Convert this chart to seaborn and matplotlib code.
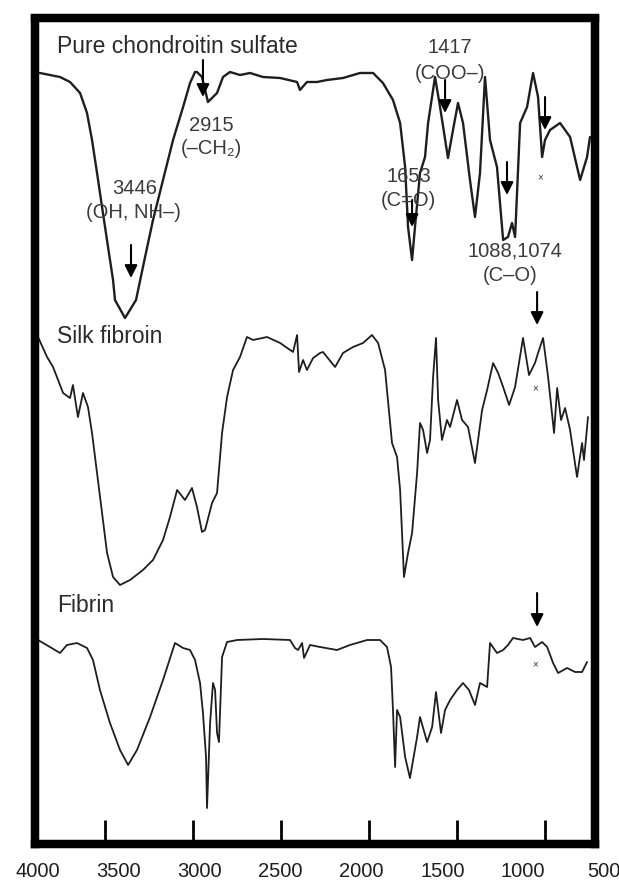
import numpy as np
import pandas as pd
import matplotlib
matplotlib.use('Agg')
import matplotlib.pyplot as plt
import seaborn as sns

# FTIR spectra: wavenumber (cm-1) and transmittance (a.u., offset stacks)
cs_wn = [3988, 3864, 3802, 3740, 3697, 3666, 3635, 3604, 3567, 3536, 3524, 3462, 3394,
         3338, 3289, 3227, 3165, 3103, 3060, 3029, 3017, 2986, 2949, 2893, 2856, 2813,
         2751, 2689, 2609, 2503, 2398, 2380, 2337, 2275, 2213, 2114, 2009, 1928, 1867,
         1805, 1761, 1730, 1712, 1687, 1669, 1638, 1607, 1588, 1545, 1514, 1465, 1434,
         1403, 1372, 1329, 1298, 1267, 1236, 1205, 1162, 1124, 1094, 1069, 1050, 1019,
         976, 939, 908, 883, 865, 834, 772, 710, 648, 605, 587]
cs_t = [773, 769, 764, 753, 733, 706, 673, 639, 599, 566, 546, 528, 546,
        589, 626, 666, 706, 739, 763, 774, 774, 769, 744, 753, 769, 774,
        771, 773, 769, 768, 764, 756, 764, 764, 766, 768, 773, 773, 763,
        746, 723, 679, 619, 586, 619, 673, 689, 723, 769, 739, 688, 716,
        743, 723, 666, 629, 673, 769, 706, 679, 606, 609, 623, 609, 723,
        739, 773, 749, 689, 706, 716, 723, 709, 666, 689, 709]

silk_wn = [4000, 3944, 3907, 3876, 3845, 3802, 3784, 3753, 3722, 3691, 3666, 3635, 3604,
           3573, 3536, 3493, 3431, 3351, 3289, 3227, 3184, 3140, 3091, 3048, 3017, 2986,
           2967, 2924, 2893, 2862, 2831, 2794, 2751, 2708, 2670, 2584, 2503, 2423, 2398,
           2386, 2361, 2337, 2299, 2256, 2238, 2163, 2114, 2052, 1990, 1935, 1897, 1854,
           1811, 1780, 1761, 1737, 1712, 1687, 1656, 1638, 1619, 1594, 1576, 1557, 1539,
           1526, 1502, 1471, 1452, 1409, 1378, 1341, 1298, 1254, 1223, 1186, 1155, 1124,
           1087, 1050, 1001, 964, 927, 908, 877, 846, 809, 790, 766, 741, 710, 667, 636,
           624, 599]
silk_t = [509, 489, 479, 466, 453, 448, 461, 429, 453, 439, 413, 373, 333,
          293, 269, 261, 266, 276, 286, 306, 329, 356, 346, 358, 339, 314,
          316, 343, 353, 413, 449, 476, 489, 509, 506, 509, 503, 494, 511,
          474, 486, 476, 488, 493, 494, 479, 493, 499, 503, 511, 503, 476,
          403, 389, 356, 269, 293, 313, 373, 423, 416, 393, 406, 469, 508,
          446, 406, 426, 419, 446, 426, 419, 383, 436, 456, 483, 473, 459,
          441, 459, 508, 471, 483, 493, 508, 469, 413, 458, 426, 438, 416, 369, 403,
          386, 429]

fib_wn = [4000, 3926, 3864, 3821, 3759, 3697, 3660, 3617, 3555, 3493, 3443, 3388, 3307,
          3227, 3153, 3103, 3060, 3029, 2998, 2980, 2961, 2955, 2936, 2918, 2905, 2893,
          2881, 2862, 2831, 2769, 2609, 2442, 2411, 2392, 2367, 2355, 2318, 2256, 2151,
          2071, 1965, 1885, 1842, 1817, 1805, 1792, 1780, 1761, 1730, 1700, 1656, 1638,
          1594, 1563, 1539, 1508, 1483, 1452, 1409, 1372, 1335, 1298, 1267, 1223, 1205,
          1162, 1124, 1094, 1063, 1001, 957, 927, 883, 852, 815, 784, 729, 679, 636, 605]
fib_t = [206, 199, 193, 201, 203, 198, 186, 156, 123, 96, 81, 96, 129,
         166, 203, 198, 196, 186, 163, 133, 89, 38, 123, 163, 156, 113,
         104, 189, 204, 206, 207, 206, 198, 196, 203, 188, 201, 199, 196,
         201, 206, 206, 199, 179, 136, 79, 136, 129, 89, 68, 109, 129,
         104, 119, 154, 113, 136, 146, 156, 163, 156, 141, 163, 159, 203,
         193, 196, 201, 208, 206, 208, 199, 204, 199, 183, 173, 178, 174, 174, 184]

sample_names = ['Pure chondroitin sulfate', 'Silk fibroin', 'Fibrin']
axis_labels = [4000, 3500, 3000, 2500, 2000, 1500, 1000, 500]

# peak annotations: text, x, y
ann_text = ['2915', '(–CH₂)', '3446', '(OH, NH–)', '1417', '(COO–)',
            '1653', '(C=O)', '1088,1074', '(C–O)']
ann_x = [2927, 2927, 3403, 3413, 1452, 1452, 1709, 1709, 1053, 1081]
ann_y = [721, 698, 658, 634, 799, 773, 670, 646, 595, 571]

# arrows: x, start y, end y
arrow_x = [3425, 2980, 1483, 1687, 1100, 865, 914, 914]
arrow_y0 = [601, 786, 766, 646, 684, 749, 554, 253]
arrow_y1 = [568, 749, 733, 619, 651, 716, 521, 219]

star_x = [896, 927, 927]
star_y = [669, 458, 182]

name_y = [793, 503, 234]

sns.set_style('white')
plt.rcParams['font.family'] = ['Liberation Sans', 'DejaVu Sans']

fig = plt.figure(figsize=(6.19, 8.8), dpi=100)
ax = fig.add_axes([35 / 619, 36 / 880, 559.5 / 619, 825.5 / 880])

spectra = [(cs_wn, cs_t, 1.7), (silk_wn, silk_t, 1.3), (fib_wn, fib_t, 1.3)]
for wn, t, lw in spectra:
    sns.lineplot(x=wn, y=t, ax=ax, color='#1e1e1e', lw=lw, sort=False, estimator=None)

ax.set_xlim(4018.6, 559)
ax.set_ylim(2, 827.5)
ax.set_xlabel('')
ax.set_ylabel('')
ax.set_yticks([])
ax.set_xticks([3586, 3041, 2497, 1953, 1409, 865])
ax.set_xticklabels([])
ax.tick_params(axis='x', direction='in', length=17, width=2, color='black', bottom=True)
for s in ax.spines.values():
    s.set_linewidth(6.1)
    s.set_color('black')
    s.set_capstyle('projecting')

for name, y in zip(sample_names, name_y):
    ax.text(3883, y, name, fontsize=16.5, color='#2a2a2a', va='baseline', ha='left')

for txt, x, y in zip(ann_text, ann_x, ann_y):
    ax.text(x, y, txt, fontsize=14.5, color='#3a3a3a', ha='center', va='center')

for x, y0, y1 in zip(arrow_x, arrow_y0, arrow_y1):
    ax.annotate('', xy=(x, y1), xytext=(x, y0),
                arrowprops=dict(arrowstyle='-|>', color='black', lw=1.5, mutation_scale=19,
                                shrinkA=0, shrinkB=0))

for x, y in zip(star_x, star_y):
    ax.text(x, y, '×', fontsize=7, color='#333333', ha='center', va='center')

# wavenumber labels sit on their own evenly spaced scale below the frame
lab = fig.add_axes([38 / 619, 21 / 880, 566 / 619, 0.0001])
lab.set_xlim(4000, 500)
lab.set_xticks(axis_labels)
lab.set_xticklabels([str(v) for v in axis_labels], fontsize=14.5, color='#1e1e1e')
lab.tick_params(axis='x', length=0, pad=2, bottom=True)
lab.set_yticks([])
for s in lab.spines.values():
    s.set_visible(False)
lab.patch.set_alpha(0)

fig.savefig('out.png', dpi=100)
